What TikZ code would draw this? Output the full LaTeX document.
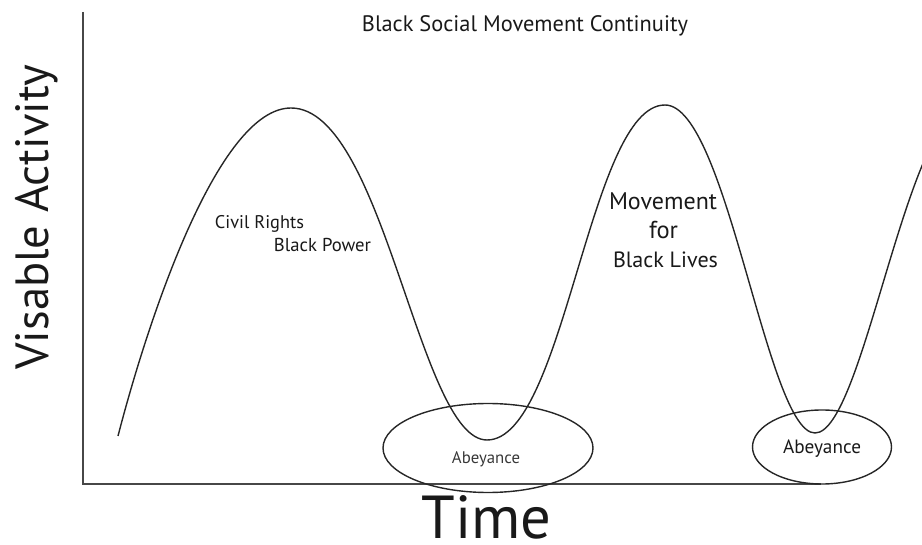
\documentclass[tikz,border=0pt]{standalone}
\usepackage{fontspec}
\setmainfont{PT Sans}
\usetikzlibrary{shapes.geometric}
\newcommand{\fitw}[2]{\resizebox{#1pt}{!}{#2}}
\tikzset{
  axisline/.style={line width=2pt, draw=black!72},
  curveline/.style={line width=1.4pt, draw=black!85, line join=round},
  ring/.style={ellipse, draw=black!85, line width=1.4pt, inner sep=0pt},
  lbl/.style={inner sep=0pt, text=black!90},
}
\begin{document}
\begin{tikzpicture}[x=1pt,y=-1pt]
\useasboundingbox (0,0) rectangle (922,545);
% axes
\coordinate (ytop) at (83,12);
\coordinate (orig) at (83,484);
\coordinate (xend) at (821,484);
\draw[axisline] (ytop) -- (orig) -- (xend);
% curve
\coordinate (s0) at (118,436);
\coordinate (p1) at (291,108);
\coordinate (t1) at (487,440);
\coordinate (p2) at (665,105);
\coordinate (t2) at (815,433);
\coordinate (p3) at (970,105);
\begin{scope}
\clip (0,0) rectangle (922,545);
\draw[curveline] (s0) .. controls (148,320) and (218,108) .. (p1)
  .. controls (384,108) and (419,440) .. (t1)
  .. controls (565,440) and (589,105) .. (p2)
  .. controls (727,105) and (767,433) .. (t2)
  .. controls (864,433) and (907,105) .. (p3);
\end{scope}
% ellipses
\node[ring, minimum width=210pt, minimum height=89pt] (e1) at (488,448) {};
\node[ring, minimum width=139pt, minimum height=74pt] (e2) at (822,447) {};
% texts
\node[lbl, anchor=base] (title) at (525,32) {\fitw{326}{Black Social Movement Continuity}};
\node[lbl, anchor=base, rotate=90] (ylab) at (48,217) {\fitw{305}{Visable Activity}};
\node[lbl, anchor=base] (xlab) at (486.5,539) {\fitw{130}{Time}};
\node[lbl, anchor=base] (cr) at (259.5,229) {\fitw{89}{Civil Rights}};
\node[lbl, anchor=base] (bp) at (322.5,252) {\fitw{97}{Black Power}};
\node[lbl, anchor=base] (m1) at (663,210) {\fitw{108}{Movement}};
\node[lbl, anchor=base] (m2) at (663.5,239) {\fitw{29}{for}};
\node[lbl, anchor=base] (m3) at (665.5,268) {\fitw{105}{Black Lives}};
\node[lbl, anchor=base, text=black!78] (a1) at (486,464) {\fitw{68}{Abeyance}};
\node[lbl, anchor=base] (a2) at (822,454) {\fitw{78}{Abeyance}};
\end{tikzpicture}
\end{document}
